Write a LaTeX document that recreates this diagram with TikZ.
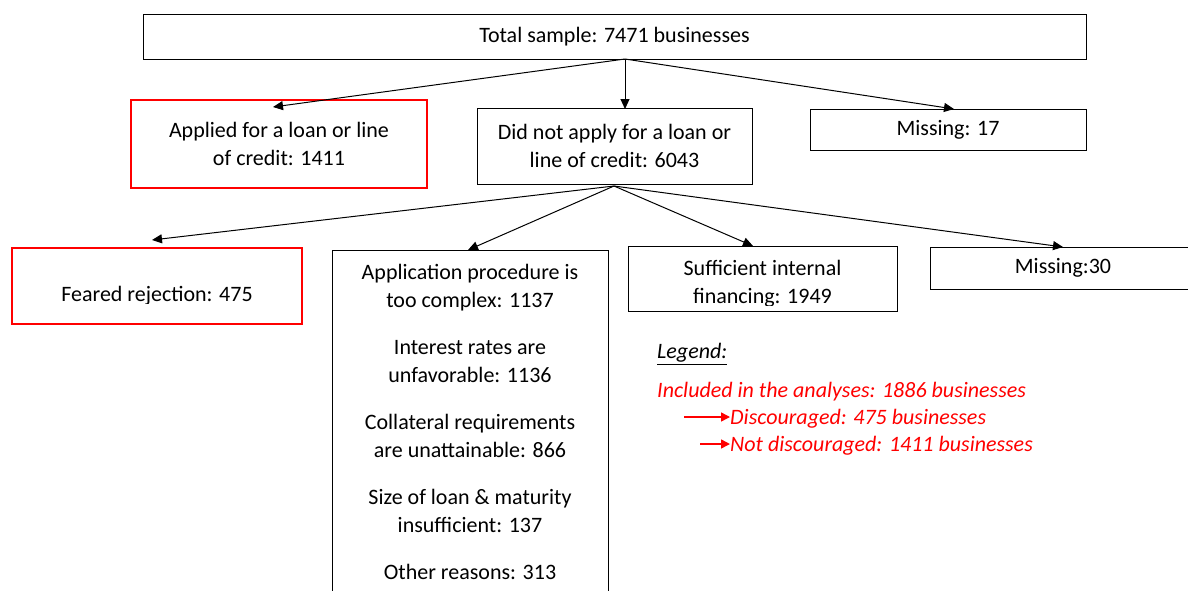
\documentclass[tikz,border=0pt]{standalone}
\usepackage{fontspec}
\setmainfont{Carlito}
\usetikzlibrary{arrows.meta}
\begin{document}
\begin{tikzpicture}[x=1pt,y=-1pt,
  every node/.style={font=\fontsize{22}{28}\selectfont, inner sep=0pt},
  box/.style={draw=black, line width=1pt, align=center},
  redbox/.style={draw=red, line width=2.6pt, align=center},
  txt/.style={align=center},
  arr/.style={-{Triangle[length=10pt,width=9pt]}, line width=1pt},
  legarr/.style={red, line width=1.5pt, -{Triangle[length=9pt,width=9pt]}},
  legtext/.style={red, font=\fontsize{22}{28}\selectfont\itshape, anchor=west}]
\useasboundingbox (0,0) rectangle (1188,590);
\clip (0,0) rectangle (1188,590);

% level 0
\node[box, minimum width=943pt, minimum height=45pt] (total) at (614.5,36.5) {Total sample: 7471 businesses};

% level 1
\node[redbox, minimum width=296pt, minimum height=88pt] (applied) at (279,144) {Applied for a loan or line\\of credit: 1411};
\node[box, minimum width=275pt, minimum height=76pt] (notapply) at (614.5,146) {Did not apply for a loan or\\line of credit: 6043};
\node[box, minimum width=276pt, minimum height=41pt] (miss17) at (948,129.5) {Missing: 17};

% level 2
\node[redbox, minimum width=290pt, minimum height=76pt] (feared) at (157,286) {};
\begin{scope}
  \clip (12,248) rectangle (302,303);
  \node[txt] (fearedtext) at (157,296) {Feared rejection: 475};
\end{scope}

\node[box, minimum width=276pt, minimum height=370pt] (app) at (470,435) {};
\node[txt, anchor=north] (apptext) at (470,264) {Application procedure is\\too complex: 1137\\[19pt]Interest rates are\\unfavorable: 1136\\[19pt]Collateral requirements\\are unattainable: 866\\[19pt]Size of loan \& maturity\\insufficient: 137\\[19pt]Other reasons: 313};

\node[box, minimum width=269pt, minimum height=65pt] (suff) at (762.5,278.5) {};
\begin{scope}
  \clip (628,246) rectangle (897,305);
  \node[txt] (sufftext) at (762.5,284) {Sufficient internal\\financing: 1949};
\end{scope}

\node[box, minimum width=266pt, minimum height=42pt] (miss30) at (1063,268) {Missing:30};

% connectors level 0 -> 1
\coordinate (o1) at (625,59);
\coordinate (t1) at (273,107);
\coordinate (t2) at (625,109);
\coordinate (t3) at (954,109);
\draw[arr] (o1) -- (t1);
\draw[arr] (o1) -- (t2);
\draw[arr] (o1) -- (t3);

% connectors level 1 -> 2
\coordinate (o2) at (614,186);
\coordinate (u1) at (152,240);
\coordinate (u2) at (468,250);
\coordinate (u3) at (753,246);
\coordinate (u4) at (1063,247);
\draw[arr] (o2) -- (u1);
\draw[arr] (o2) -- (u2);
\draw[arr] (o2) -- (u3);
\draw[arr] (o2) -- (u4);

% legend
\node[anchor=west, font=\fontsize{22}{28}\selectfont\itshape] (legend) at (657,354) {\underline{Legend:}};
\node[legtext] (incl) at (657,392) {Included in the analyses: 1886 businesses};
\node[legtext] (disc) at (730,419) {Discouraged: 475 businesses};
\node[legtext] (notdisc) at (730,446) {Not discouraged: 1411 businesses};
\coordinate (la) at (684,417);
\coordinate (lb) at (700,444);
\draw[legarr] (la) -- (disc.west |- la);
\draw[legarr] (lb) -- (notdisc.west |- lb);
\end{tikzpicture}
\end{document}
